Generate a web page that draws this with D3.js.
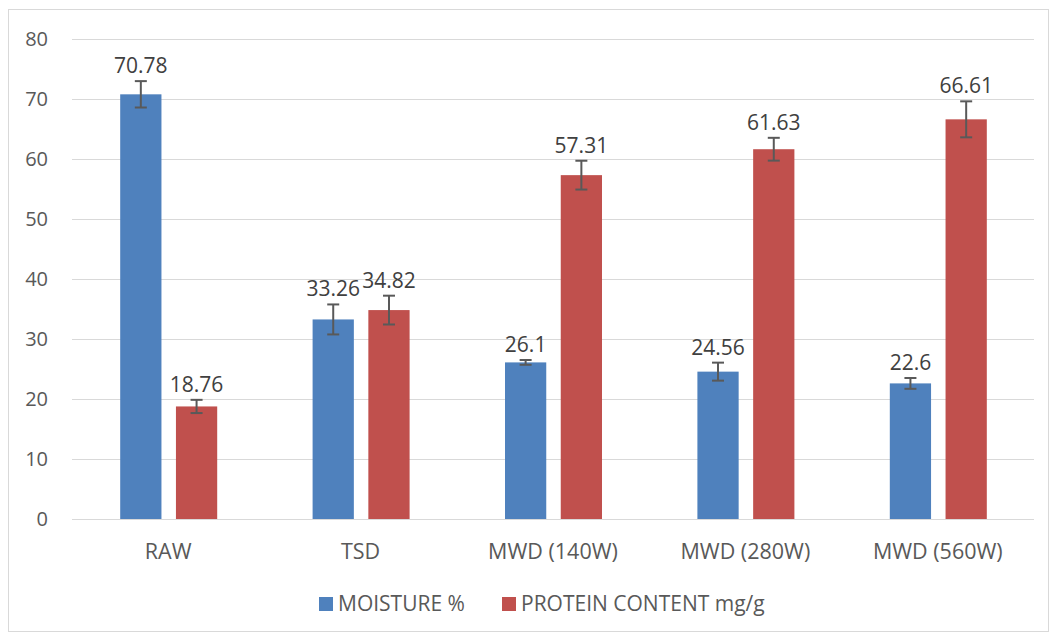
<!DOCTYPE html>
<html>
<head>
<meta charset="utf-8">
<script src="https://cdn.jsdelivr.net/npm/d3@7"></script>
<style>
body { margin: 0; background: #fff; }
text { font-family: "Open Sans", "Liberation Sans", sans-serif; fill: #595959; }
</style>
</head>
<body>
<svg id="chart" width="1052" height="635"></svg>
<script>
var categories = ["RAW", "TSD", "MWD (140W)", "MWD (280W)", "MWD (560W)"];
var seriesNames = ["MOISTURE %", "PROTEIN CONTENT mg/g"];
var moisture = [70.78, 33.26, 26.1, 24.56, 22.6];
var protein = [18.76, 34.82, 57.31, 61.63, 66.61];
var moistureErr = [2.2, 2.5, 0.4, 1.5, 0.9];
var proteinErr = [1.1, 2.4, 2.4, 1.9, 3.0];
var yTicks = [0, 10, 20, 30, 40, 50, 60, 70, 80];
var colors = ["#4f81bd", "#c0504d"];

var svg = d3.select("#chart");

// outer chart border
svg.append("rect")
    .attr("x", 8.5).attr("y", 9.5)
    .attr("width", 1040).attr("height", 622)
    .attr("fill", "none").attr("stroke", "#d9d9d9");

var x = d3.scaleBand().domain(categories).range([72, 1034]);
var y = d3.scaleLinear().domain([0, 80]).range([519, 39]);
var inner = d3.scaleBand().domain([0, 1]).range([-48, 49]).paddingInner(0.26);

// gridlines
svg.append("g").selectAll("line").data(yTicks).join("line")
    .attr("x1", 72).attr("x2", 1034)
    .attr("y1", d => y(d) + 0.5).attr("y2", d => y(d) + 0.5)
    .attr("stroke", "#d9d9d9").attr("stroke-width", 1);

svg.append("g").selectAll("text").data(yTicks).join("text")
    .attr("x", 48).attr("y", d => y(d))
    .attr("dy", "0.35em").attr("text-anchor", "end")
    .attr("font-size", 20).text(d => d);

svg.append("g").selectAll("text").data(categories).join("text")
    .attr("x", d => x(d) + x.bandwidth() / 2).attr("y", 551)
    .attr("dy", "0.35em")
    .attr("text-anchor", "middle").attr("font-size", 21.5).text(d => d);

var rows = [];
categories.forEach((c, i) => {
    rows.push({cat: c, s: 0, v: moisture[i], e: moistureErr[i]});
    rows.push({cat: c, s: 1, v: protein[i], e: proteinErr[i]});
});
var cx = d => x(d.cat) + x.bandwidth() / 2 + inner(d.s);

svg.append("g").selectAll("rect").data(rows).join("rect")
    .attr("x", d => cx(d)).attr("width", inner.bandwidth())
    .attr("y", d => y(d.v)).attr("height", d => y(0) - y(d.v))
    .attr("fill", d => colors[d.s]);

// error bars
var eg = svg.append("g").attr("stroke", "#595959").attr("stroke-width", 2);
rows.forEach(d => {
    var mx = cx(d) + inner.bandwidth() / 2;
    eg.append("line").attr("x1", mx).attr("x2", mx)
        .attr("y1", y(d.v + d.e)).attr("y2", y(d.v - d.e));
    [d.v + d.e, d.v - d.e].forEach(t => {
        eg.append("line").attr("x1", mx - 6).attr("x2", mx + 6)
            .attr("y1", y(t)).attr("y2", y(t));
    });
});

svg.append("g").selectAll("text").data(rows).join("text")
    .attr("x", d => cx(d) + inner.bandwidth() / 2)
    .attr("y", d => y(d.v + d.e) - 8)
    .attr("text-anchor", "middle").attr("font-size", 21)
    .style("fill", "#404040")
    .text(d => d.v);

// legend
var legend = svg.append("g");
var lx = [319, 502];
seriesNames.forEach((n, i) => {
    legend.append("rect").attr("x", lx[i]).attr("y", 597)
        .attr("width", 14).attr("height", 14).attr("fill", colors[i]);
    legend.append("text").attr("x", lx[i] + 19).attr("y", 604)
        .attr("dy", "0.35em").attr("font-size", 21).text(n);
});
</script>
</body>
</html>
